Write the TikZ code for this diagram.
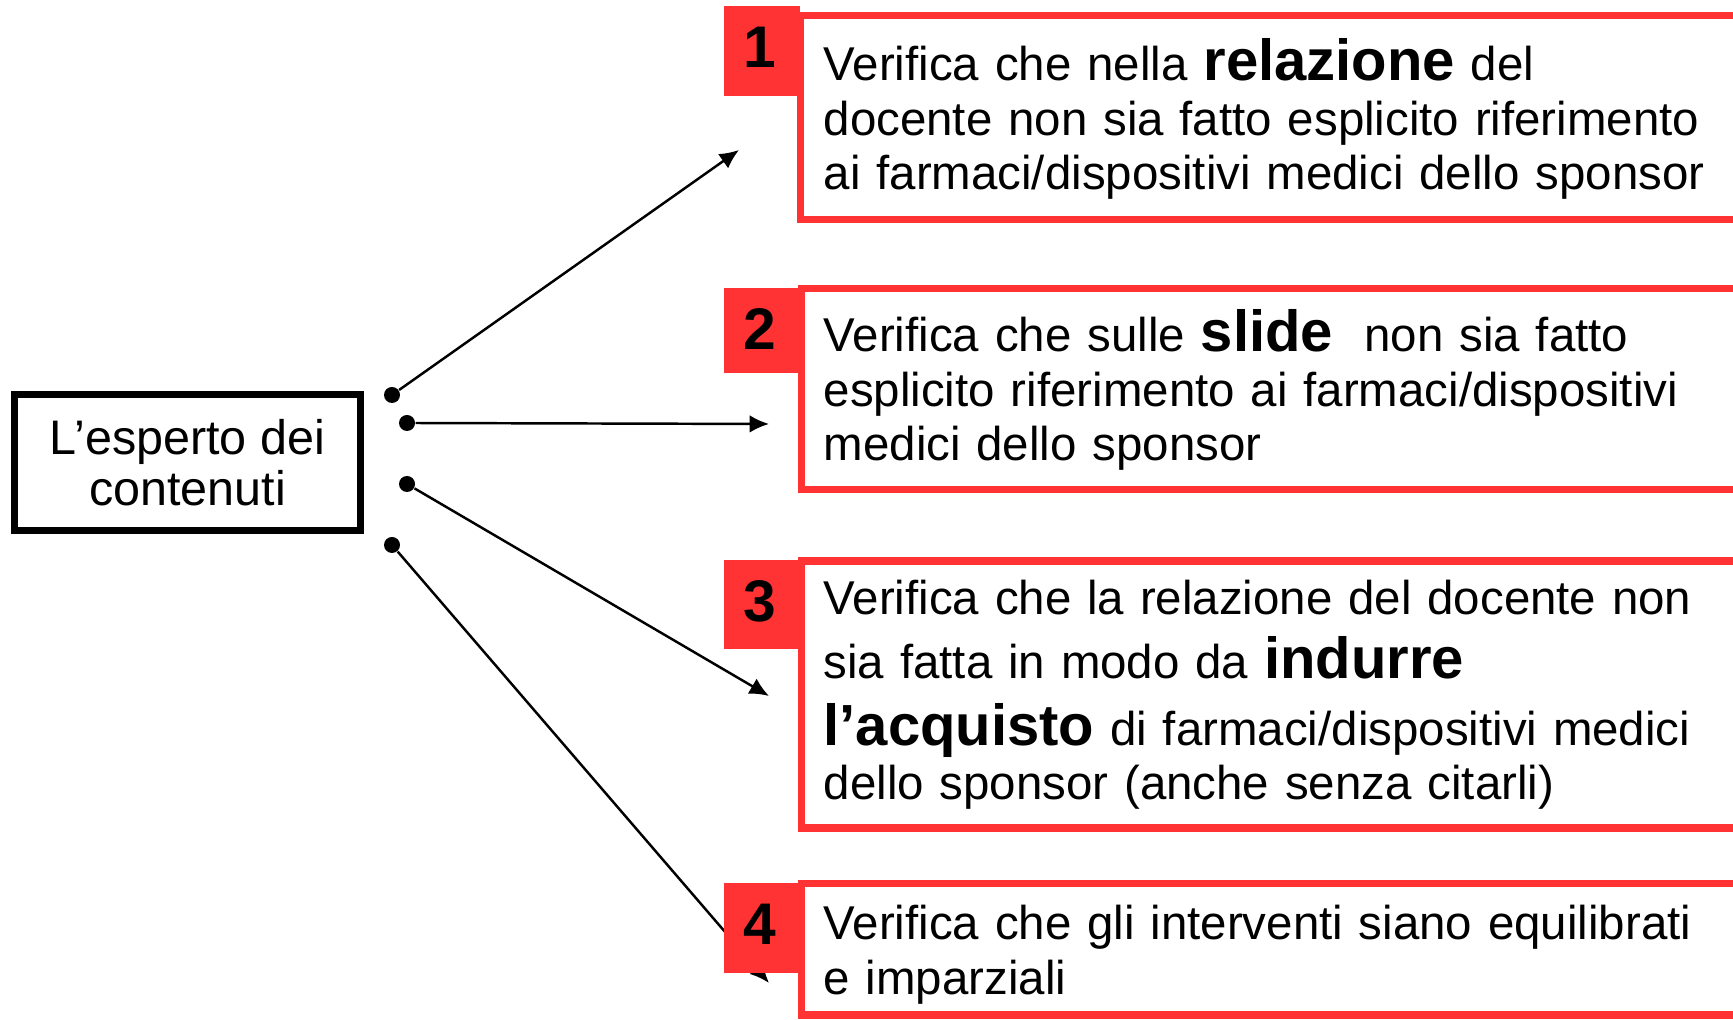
\documentclass[tikz,border=0pt]{standalone}
\usepackage{fontspec}
\setmainfont{Liberation Sans}
\usepackage{xcolor}
\usetikzlibrary{arrows.meta,positioning}
\definecolor{boxred}{RGB}{255,51,51}
\tikzset{redbox/.style={draw=boxred, line width=2pt, fill=white},
numbox/.style={fill=boxred},
numlabel/.style={anchor=base, font=\fontsize{16.7}{20}\selectfont\bfseries},
%text of the four checks
itemtext/.style={anchor=base west, inner sep=0pt, text width=9.4cm, align=left, font=\fontsize{13.5}{15.4}\selectfont},
dot/.style={circle, fill=black, inner sep=0pt, minimum size=0.16cm},
link/.style={line width=0.7pt, -{Latex[length=5.5pt,width=5pt]}}}
\newcommand{\hl}[1]{{\fontsize{16.5}{18}\selectfont\bfseries #1}}

\begin{document}
\begin{tikzpicture}
  \useasboundingbox (0,0) rectangle (17.33,10.2);
  \clip (0,0) rectangle (17.33,10.2);

  \node[draw, line width=2pt, minimum width=3.46cm, minimum height=1.36cm, align=center, font=\fontsize{13.8}{14.5}\selectfont] (esperto) at (1.875,5.575) {L’esperto dei\\contenuti};

  \node[dot] (d1) at (3.92,6.25) {};
  \node[dot] (d2) at (4.07,5.97) {};
  \node[dot] (d3) at (4.07,5.36) {};
  \node[dot] (d4) at (3.92,4.75) {};

  \coordinate (a1) at (7.39,8.70);
  \coordinate (a2) at (7.69,5.96);
  \coordinate (a3) at (7.69,3.24);
  \coordinate (a4) at (7.69,0.37);

  \draw[link] (d1) -- (a1);
  \draw[link] (d2) -- (a2);
  \draw[link] (d3) -- (a3);
  \draw[link] (d4) -- (a4);

  % boxes run past the right edge
  \draw[redbox] (8.005,10.04) rectangle (17.6,8.005);
  \draw[redbox] (8.01,7.315) rectangle (17.6,5.30);
  \draw[redbox] (8.01,4.59) rectangle (17.6,1.92);
  \draw[redbox] (8.01,1.365) rectangle (17.6,0.05);

  \fill[numbox] (7.24,10.14) rectangle (8.00,9.24);
  \fill[numbox] (7.24,7.32) rectangle (8.00,6.47);
  \fill[numbox] (7.24,4.60) rectangle (7.98,3.71);
  \fill[numbox] (7.24,1.37) rectangle (7.98,0.47);

  \node[numlabel] (n1) at (7.60,9.52) {1};
  \node[numlabel] (n2) at (7.60,6.70) {2};
  \node[numlabel] (n3) at (7.60,3.98) {3};
  \node[numlabel] (n4) at (7.60,0.75) {4};

  \node[itemtext] (t1) at (8.23,9.39) {Verifica che nella \hl{relazione} del\\docente non sia fatto esplicito riferimento\\ai farmaci/dispositivi medici dello sponsor};
  \node[itemtext] (t2) at (8.23,6.68) {Verifica che sulle \hl{slide}~ non sia fatto\\esplicito riferimento ai farmaci/dispositivi\\medici dello sponsor};
  \node[itemtext] (t3) at (8.23,4.05) {Verifica che la relazione del docente non\\[0.09cm]sia fatta in modo da \hl{indurre}\\[0.13cm]\hl{l’acquisto} di farmaci/dispositivi medici\\dello sponsor (anche senza citarli)};
  \node[itemtext] (t4) at (8.23,0.80) {Verifica che gli interventi siano equilibrati\\e imparziali};
\end{tikzpicture}
\end{document}
